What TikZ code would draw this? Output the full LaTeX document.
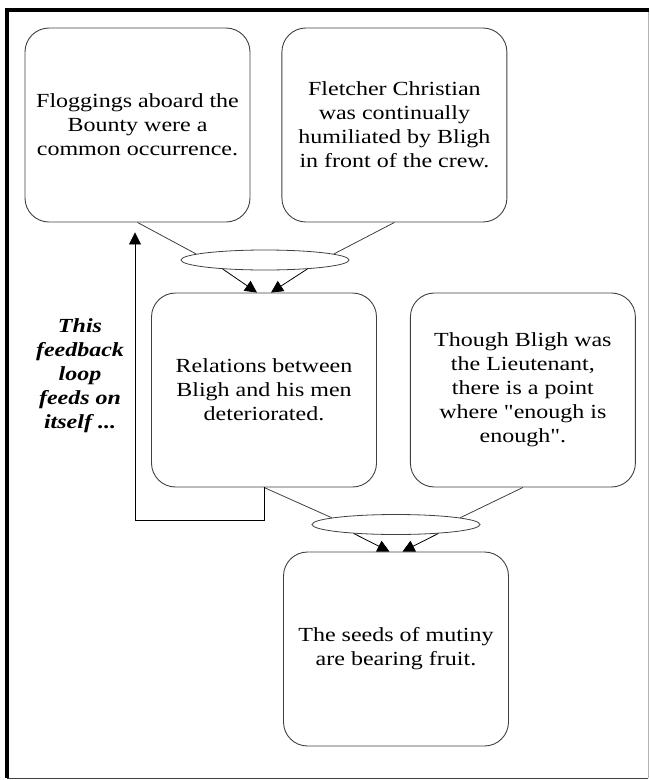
\documentclass[tikz,border=0pt]{standalone}
\usepackage{fontspec}
\setmainfont{Liberation Serif}[FakeStretch=1.2, Ligatures=TeXOff]
\usetikzlibrary{positioning, shapes.geometric, arrows.meta}
\tikzset{>={Triangle[length=12pt,width=12pt]}, x=1pt, y=-1pt,
  idea/.style={draw=black!75, line width=0.9pt, rounded corners=24pt,
    minimum width=225pt, minimum height=194pt, align=center,
    font=\fontsize{20}{24}\selectfont},
  junction/.style={draw=black!75, line width=0.8pt, ellipse,
    minimum width=168pt, minimum height=20pt, inner sep=0pt},
  link/.style={draw=black!75, line width=0.8pt}}

\begin{document}
\begin{tikzpicture}
\useasboundingbox (0,0) rectangle (649,780);
% frame
\draw[black!30, line width=0.6pt] (648.3,10) -- (648.3,778);
\draw[black!75, line width=0.8pt] (7,778) -- (648.3,778);
\draw[line width=3.5pt] (7,778) -- (7,10) -- (649,10);

\node[idea] (flog) at (137.5,125) {Floggings aboard the\\ Bounty were a\\ common occurrence.};
\node[idea, right=31pt of flog] (humil) {Fletcher Christian\\ was continually\\ humiliated by Bligh\\ in front of the crew.};
\node[junction] (and1) at (265,260) {};
\node[idea] (rel) at (264,390) {Relations between\\ Bligh and his men\\ deteriorated.};
\node[idea, right=33pt of rel] (lieut) {Though Bligh was\\ the Lieutenant,\\ there is a point\\ where "enough is\\ enough".};
\node[junction] (and2) at (396,524.5) {};
\node[idea] (seeds) at (396,649) {The seeds of mutiny\\ are bearing fruit.};
\node[font=\bfseries\itshape\fontsize{20}{24}\selectfont, align=center] (loop) at (80,376) {This\\ feedback\\ loop\\ feeds on\\ itself ...};

\draw[link]
(flog.south) edge (and1.175)
(humil.south) edge (and1.5)
(and1.192) edge[->, black] ([xshift=-7pt]rel.north)
(and1.348) edge[->, black] ([xshift=7pt]rel.north)
(rel.south) edge (and2.174)
(lieut.south) edge (and2.6)
(and2.192) edge[->, black] ([xshift=-6.5pt]seeds.north)
(and2.348) edge[->, black] ([xshift=6.5pt]seeds.north);
% feedback loop
\draw[link, draw=black, ->] (rel.south) -- ++(0,33) -| ([xshift=-2.5pt, yshift=-10pt]flog.south);
\end{tikzpicture}
\end{document}
